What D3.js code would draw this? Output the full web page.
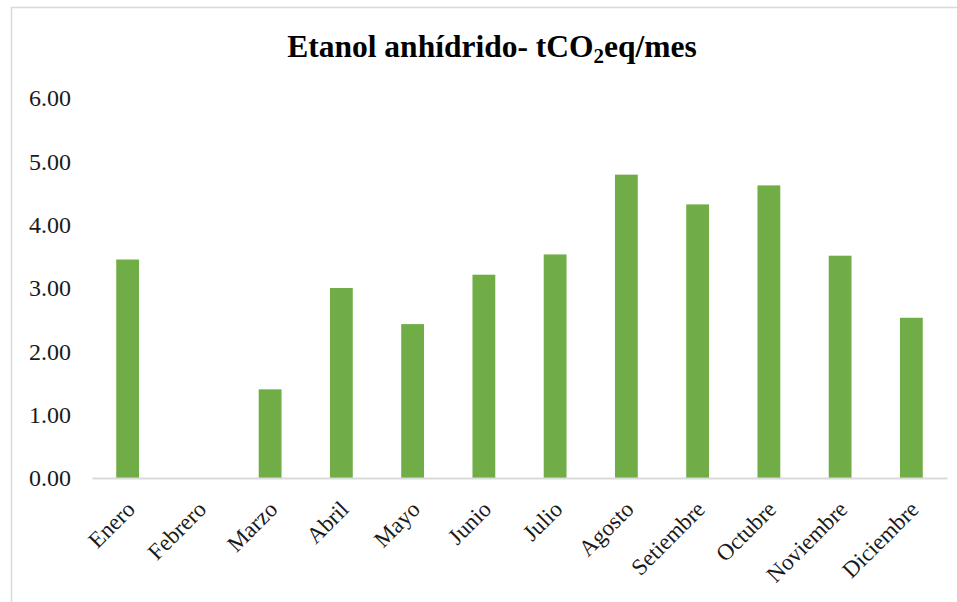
<!DOCTYPE html>
<html>
<head>
<meta charset="utf-8">
<script src="https://cdn.jsdelivr.net/npm/d3@7"></script>
<style>
  html, body { margin: 0; padding: 0; background: #fff; }
  svg { display: block; }
</style>
</head>
<body>
<svg id="chart" width="957" height="602"></svg>
<script>
// Monthly emissions of anhydrous ethanol (tCO2eq per month)
const months = ["Enero", "Febrero", "Marzo", "Abril", "Mayo", "Junio", "Julio",
                "Agosto", "Setiembre", "Octubre", "Noviembre", "Diciembre"];
const emissions = [3.45, 0, 1.40, 3.00, 2.43, 3.21, 3.53, 4.79, 4.32, 4.62, 3.51, 2.53];
const yTicks = [0, 1, 2, 3, 4, 5, 6];

const margin = { left: 92, right: 10, top: 98, bottom: 124 };
const svg = d3.select("#chart");
const serif = "'Liberation Serif', 'Times New Roman', serif";

// chart area frame
svg.append("rect")
  .attr("x", 11.5).attr("y", 7.5)
  .attr("width", 1000).attr("height", 700)
  .attr("fill", "#fff").attr("stroke", "#d9d9d9").attr("stroke-width", 1.5);

const x = d3.scaleBand()
  .domain(months)
  .range([margin.left, 947])
  .paddingInner(0.68)
  .paddingOuter(0.34);

const y = d3.scaleLinear()
  .domain([0, 6])
  .range([478, 98]);

// title with subscript
const title = svg.append("text")
  .attr("x", 492).attr("y", 57)
  .attr("text-anchor", "middle")
  .attr("font-family", serif)
  .attr("font-weight", "bold")
  .attr("font-size", 31.5)
  .attr("fill", "#000");
title.append("tspan").text("Etanol anhídrido- tCO");
title.append("tspan").attr("dy", 6).attr("font-size", 21).text("2");
title.append("tspan").attr("dy", -6).text("eq/mes");

// y axis labels
const yAxis = d3.axisLeft(y)
  .tickValues(yTicks)
  .tickFormat(d3.format(".2f"))
  .tickSize(0)
  .tickPadding(0);
const yg = svg.append("g").attr("transform", "translate(71,0)").call(yAxis);
yg.select(".domain").remove();
yg.selectAll("text")
  .attr("font-family", serif)
  .attr("font-size", 24)
  .attr("fill", "#1a1a1a");

// bars
svg.append("g").selectAll("rect")
  .data(emissions)
  .join("rect")
  .attr("x", (d, i) => x(months[i]))
  .attr("y", d => y(d))
  .attr("width", x.bandwidth())
  .attr("height", d => y(0) - y(d))
  .attr("fill", "#70ad47");

// category axis
const xAxis = d3.axisBottom(x).tickSize(0).tickPadding(0);
const xg = svg.append("g").attr("transform", `translate(0,${y(0)})`).call(xAxis);
xg.select(".domain")
  .attr("stroke", "#d9d9d9")
  .attr("stroke-width", 2);
xg.selectAll("text")
  .attr("font-family", serif)
  .attr("font-size", 23)
  .attr("fill", "#1a1a1a")
  .attr("text-anchor", "end")
  .attr("dy", "0.35em")
  .attr("transform", "translate(3,27) rotate(-45)");
</script>
</body>
</html>
